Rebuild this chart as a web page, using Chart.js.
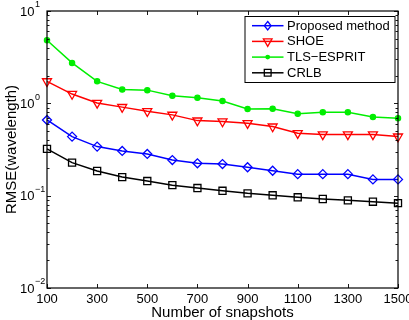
<!DOCTYPE html>
<html>
<head>
<meta charset="utf-8">
<script src="https://cdn.jsdelivr.net/npm/chart.js@4/dist/chart.umd.min.js"></script>
<style>
html,body{margin:0;padding:0;background:#fff;}
#wrap{width:409px;height:320px;position:relative;}
</style>
</head>
<body>
<div id="wrap"><canvas id="c" width="409" height="320"></canvas></div>
<script>
const snapshots = [100,200,300,400,500,600,700,800,900,1000,1100,1200,1300,1400,1500];
const proposed = [0.66,0.436,0.34,0.305,0.283,0.243,0.224,0.22,0.203,0.186,0.171,0.171,0.171,0.15,0.15];
const shoe     = [1.73,1.26,1.01,0.91,0.82,0.75,0.65,0.635,0.61,0.56,0.475,0.46,0.46,0.46,0.436];
const tlsEsprit= [4.83,2.74,1.73,1.41,1.39,1.21,1.15,1.06,0.87,0.875,0.77,0.80,0.80,0.71,0.69];
const crlb     = [0.321,0.228,0.185,0.159,0.144,0.130,0.121,0.113,0.106,0.101,0.096,0.092,0.089,0.086,0.083];
const seriesLabels = ['Proposed method','SHOE','TLS\u2212ESPRIT','CRLB'];
const xTicks = [100,300,500,700,900,1100,1300,1500];
const yDecades = [0.01,0.1,1,10];
const yExponents = ['\u22122','\u22121','0','1'];

const FONT = '"Liberation Sans", Arial, Helvetica, sans-serif';

function marker(ctx, style, x, y, r, rot, color, fill) {
  ctx.save();
  ctx.strokeStyle = color; ctx.fillStyle = color; ctx.lineWidth = 1.3;
  ctx.beginPath();
  if (style === 'rectRot') {
    ctx.moveTo(x, y - r); ctx.lineTo(x + r*0.8, y); ctx.lineTo(x, y + r); ctx.lineTo(x - r*0.8, y); ctx.closePath();
  } else if (style === 'triangle') {
    const a0 = rot * Math.PI / 180;
    for (let i = 0; i < 3; i++) {
      const a = a0 + i * 2 * Math.PI / 3;
      const px = x + Math.sin(a) * r, py = y - Math.cos(a) * r;
      if (i === 0) ctx.moveTo(px, py); else ctx.lineTo(px, py);
    }
    ctx.closePath();
  } else if (style === 'rect') {
    const s = r * Math.SQRT1_2; ctx.rect(x - s, y - s, 2*s, 2*s);
  } else {
    ctx.arc(x, y, r, 0, Math.PI*2);
  }
  if (fill) ctx.fill(); else ctx.stroke();
  ctx.restore();
}

const framePlugin = {
  id: 'frame',
  afterDraw(chart) {
    const ctx = chart.ctx, a = chart.chartArea;
    const xs = chart.scales.x, ys = chart.scales.y;
    ctx.save();
    ctx.strokeStyle = '#000'; ctx.lineWidth = 1.2;
    ctx.strokeRect(a.left, a.top, a.right - a.left, a.bottom - a.top);
    ctx.lineWidth = 0.9;
    ctx.beginPath();
    xTicks.forEach(v => {
      const px = Math.round(xs.getPixelForValue(v)) + 0.5;
      ctx.moveTo(px, a.bottom); ctx.lineTo(px, a.bottom - 4);
      ctx.moveTo(px, a.top); ctx.lineTo(px, a.top + 4);
    });
    for (let d = 0; d < yDecades.length; d++) {
      const base = yDecades[d];
      const py = Math.round(ys.getPixelForValue(base)) + 0.5;
      ctx.moveTo(a.left, py); ctx.lineTo(a.left + 4, py);
      ctx.moveTo(a.right, py); ctx.lineTo(a.right - 4, py);
      if (d < yDecades.length - 1) {
        for (let m = 2; m <= 9; m++) {
          const pm = Math.round(ys.getPixelForValue(base * m)) + 0.5;
          ctx.moveTo(a.left, pm); ctx.lineTo(a.left + 2.5, pm);
          ctx.moveTo(a.right, pm); ctx.lineTo(a.right - 2.5, pm);
        }
      }
    }
    ctx.stroke();
    ctx.fillStyle = '#000';
    yDecades.forEach((v, i) => {
      const py = ys.getPixelForValue(v);
      ctx.font = '13px ' + FONT;
      ctx.textAlign = 'right'; ctx.textBaseline = 'middle';
      ctx.fillText('10', 34.5, py + 1);
      ctx.font = '9px ' + FONT;
      ctx.textAlign = 'left';
      ctx.fillText(yExponents[i], 35, py - 6);
    });
    const bw = 150, bh = 66;
    const bx = a.right - 3.5 - bw, by = a.top + 5;
    ctx.fillStyle = '#fff';
    ctx.fillRect(bx, by, bw, bh);
    ctx.lineWidth = 1; ctx.strokeStyle = '#000';
    ctx.strokeRect(bx + 0.5, by + 0.5, bw, bh);
    chart.data.datasets.forEach((ds, i) => {
      const cy = by + 9.7 + i * 15.7;
      ctx.strokeStyle = ds.borderColor; ctx.lineWidth = 1.5;
      ctx.beginPath(); ctx.moveTo(bx + 7.5, cy); ctx.lineTo(bx + 39, cy); ctx.stroke();
      marker(ctx, ds.pointStyle, bx + 23.2, cy, ds.legendR, ds.pointRotation || 0, ds.borderColor, ds.pointBackgroundColor !== 'transparent');
      ctx.fillStyle = '#000'; ctx.font = '13px ' + FONT;
      ctx.textAlign = 'left'; ctx.textBaseline = 'middle';
      ctx.fillText(ds.label, bx + 42.5, cy + 0.5);
    });
    ctx.restore();
  }
};

const mk = (label, data, color, style, r, rot, filled, lr) => ({
  label, data: data.map((v, i) => ({x: snapshots[i], y: v})),
  borderColor: color, backgroundColor: color, borderWidth: 1.5,
  pointStyle: style, pointRadius: r, pointRotation: rot,
  pointBorderColor: color, pointBackgroundColor: filled ? color : 'transparent',
  pointBorderWidth: 1.3, tension: 0, clip: false, legendR: lr
});

new Chart(document.getElementById('c'), {
  type: 'line',
  data: {
    datasets: [
      mk(seriesLabels[0], proposed, '#0000ff', 'rectRot', 4.5, 0, false, 4.2),
      mk(seriesLabels[1], shoe, '#ff0000', 'triangle', 5.2, 180, false, 5),
      mk(seriesLabels[2], tlsEsprit, '#00ee00', 'circle', 2.6, 0, true, 2.4),
      mk(seriesLabels[3], crlb, '#000000', 'rect', 5, 0, false, 4.8)
    ]
  },
  options: {
    responsive: false, animation: false, devicePixelRatio: 1,
    layout: { padding: { top: 11, right: 11, left: 0, bottom: 0 } },
    plugins: { legend: { display: false }, tooltip: { enabled: false } },
    scales: {
      x: {
        type: 'linear', min: 100, max: 1500,
        afterBuildTicks: s => { s.ticks = xTicks.map(v => ({value: v})); },
        afterFit: s => { s.height = 32; s.paddingLeft = 0; s.paddingRight = 0; },
        grid: { display: false, drawTicks: false }, border: { display: false },
        ticks: { color: '#000', font: { size: 13, family: FONT }, padding: 3.5, maxRotation: 0, autoSkip: false,
                 callback: v => String(v) },
        title: { display: true, text: 'Number of snapshots', color: '#000', font: { size: 15, family: FONT, lineHeight: 0.9 }, padding: 0 }
      },
      y: {
        type: 'logarithmic', min: 0.01, max: 10,
        afterFit: s => { s.width = 47; s.paddingTop = 0; s.paddingBottom = 0; },
        grid: { display: false, drawTicks: false }, border: { display: false },
        ticks: { display: false },
        title: { display: true, text: 'RMSE(wavelength)', color: '#000', font: { size: 15, family: FONT, lineHeight: 1.2 }, padding: { top: 3, bottom: 0 } }
      }
    }
  },
  plugins: [framePlugin]
});
</script>
</body>
</html>
